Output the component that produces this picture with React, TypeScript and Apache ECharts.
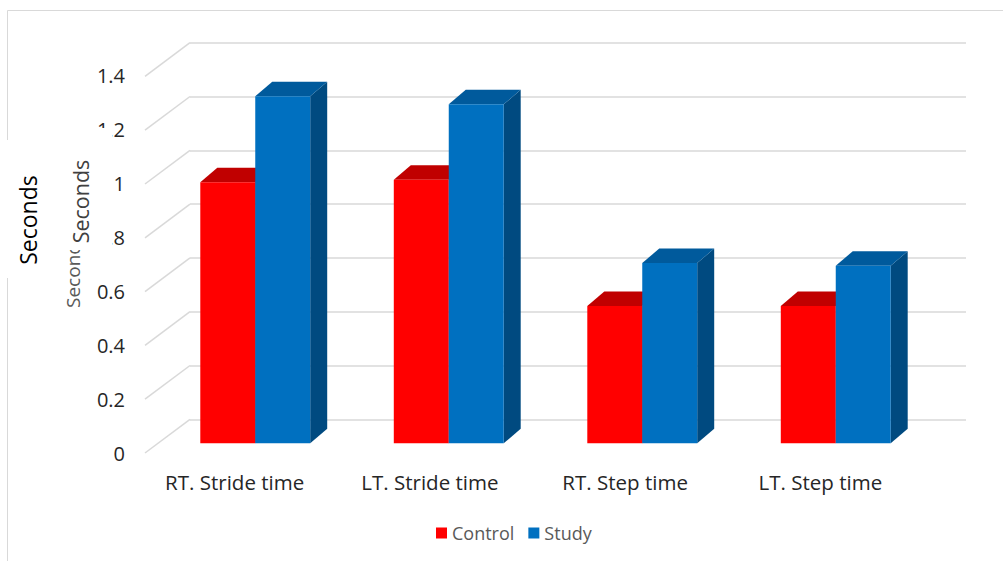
import React, { useEffect, useRef } from "react";
import * as echarts from "echarts";

// Gait timing (seconds) for control and study groups
const categories = ["RT. Stride time", "LT. Stride time", "RT. Step time", "LT. Step time"];
const controlValues = [0.97, 0.98, 0.51, 0.51];
const studyValues = [1.29, 1.26, 0.67, 0.66];
const yTicks = [0, 0.2, 0.4, 0.6, 0.8, 1.0, 1.2, 1.4];
const seriesNames = ["Control", "Study"];

const FONT = "'Open Sans', Lato, sans-serif";

// depth of the bars' top/side faces and of the floor/wall perspective
const BAR_DX = 17;
const BAR_DY = 14.5;
const WALL_DX = 45;
const WALL_DY = 33.7;

type Faces = { front: string; top: string; side: string };

function barRenderer(side: -1 | 1, faces: Faces) {
  return (_params: any, api: any) => {
    const cat = api.value(0);
    const val = api.value(1);
    const top = api.coord([cat, val]);
    const base = api.coord([cat, 0]);
    const band = api.size([1, 0])[0];
    const w = band * 0.284;
    const x0 = side < 0 ? top[0] - w : top[0];
    const x1 = x0 + w;
    const yT = top[1];
    const yB = base[1];
    return {
      type: "group",
      children: [
        {
          type: "polygon",
          shape: { points: [[x1, yT], [x1 + BAR_DX, yT - BAR_DY], [x1 + BAR_DX, yB - BAR_DY], [x1, yB]] },
          style: { fill: faces.side },
        },
        {
          type: "polygon",
          shape: { points: [[x0, yT], [x0 + BAR_DX, yT - BAR_DY], [x1 + BAR_DX, yT - BAR_DY], [x1, yT]] },
          style: { fill: faces.top },
        },
        {
          type: "rect",
          shape: { x: x0, y: yT, width: w, height: yB - yT },
          style: { fill: faces.front },
        },
      ],
    };
  };
}

export default function App() {
  const ref = useRef<HTMLDivElement>(null);

  useEffect(() => {
    if (!ref.current) return;
    const chart = echarts.init(ref.current, undefined, { renderer: "svg" });

    const controlFaces: Faces = { front: "#FF0000", top: "#C00000", side: "#A00000" };
    const studyFaces: Faces = { front: "#0070C0", top: "#005A9C", side: "#004A80" };

    const option: any = {
      animation: false,
      backgroundColor: "#ffffff",
      textStyle: { fontFamily: FONT },
      grid: [
        // front plane: tick labels and category labels
        { left: 137, top: 75, width: 781, height: 378 },
        // plane holding the bar fronts
        { left: 158.5, top: 66.7, width: 774, height: 376.6 },
        // back wall
        { left: 190, top: 42.7, width: 776, height: 376.6 },
      ],
      xAxis: [
        {
          gridIndex: 0,
          type: "category",
          data: categories,
          axisLine: { show: false },
          axisTick: { show: false },
          axisLabel: { margin: 18, fontSize: 20.5, color: "#262626", fontFamily: FONT },
        },
        { gridIndex: 1, type: "category", data: categories, show: false },
        { gridIndex: 2, type: "value", min: 0, max: 1, show: false },
      ],
      yAxis: [
        {
          gridIndex: 0,
          type: "value",
          min: 0,
          max: 1.4,
          interval: 0.2,
          axisLine: { show: false },
          axisTick: { show: false },
          splitLine: { show: false },
          axisLabel: { margin: 12, fontSize: 20, color: "#262626", fontFamily: FONT },
        },
        { gridIndex: 1, type: "value", min: 0, max: 1.4, interval: 0.2, show: false },
        {
          gridIndex: 2,
          type: "value",
          min: 0,
          max: 1.4,
          interval: 0.2,
          axisLine: { show: false },
          axisTick: { show: false },
          axisLabel: { show: false },
          splitLine: { show: true, lineStyle: { color: "#d9d9d9", width: 1.5 } },
        },
      ],
      legend: {
        data: seriesNames,
        left: 431,
        top: 519,
        icon: "rect",
        itemWidth: 11,
        itemHeight: 11,
        itemGap: 14,
        textStyle: { fontSize: 18, color: "#595959", fontFamily: FONT },
      },
      series: [
        {
          name: "floor",
          type: "custom",
          xAxisIndex: 2,
          yAxisIndex: 2,
          clip: false,
          silent: true,
          z: 1,
          data: yTicks.map((v) => [0, v]),
          renderItem: (_p: any, api: any) => {
            const p = api.coord([0, api.value(1)]);
            return {
              type: "line",
              shape: { x1: p[0] - WALL_DX, y1: p[1] + WALL_DY, x2: p[0], y2: p[1] },
              style: { stroke: "#d9d9d9", lineWidth: 1.5 },
            };
          },
        },
        {
          name: seriesNames[0],
          type: "custom",
          xAxisIndex: 1,
          yAxisIndex: 1,
          clip: false,
          z: 3,
          itemStyle: { color: controlFaces.front },
          data: controlValues.map((v, i) => [i, v]),
          encode: { x: 0, y: 1 },
          renderItem: barRenderer(-1, controlFaces),
        },
        {
          name: seriesNames[1],
          type: "custom",
          xAxisIndex: 1,
          yAxisIndex: 1,
          clip: false,
          z: 4,
          itemStyle: { color: studyFaces.front },
          data: studyValues.map((v, i) => [i, v]),
          encode: { x: 0, y: 1 },
          renderItem: barRenderer(1, studyFaces),
        },
      ],
      graphic: [
        {
          type: "rect",
          z: 0,
          silent: true,
          shape: { x: 7.5, y: 10.5, width: 1100, height: 600 },
          style: { fill: "none", stroke: "#d9d9d9", lineWidth: 1 },
        },
        {
          type: "text",
          z: 10,
          x: 73,
          y: 271,
          rotation: Math.PI / 2,
          style: {
            text: "Seconds",
            fontSize: 19,
            fontFamily: FONT,
            fill: "#595959",
            align: "center",
            verticalAlign: "middle",
          },
        },
        {
          type: "rect",
          z: 20,
          silent: true,
          shape: { x: 62, y: 128, width: 50, height: 122 },
          style: { fill: "#ffffff" },
        },
        {
          type: "text",
          z: 21,
          x: 80,
          y: 201.5,
          rotation: Math.PI / 2,
          style: {
            text: "Seconds",
            fontSize: 21.5,
            fontFamily: FONT,
            fill: "#404040",
            align: "center",
            verticalAlign: "middle",
          },
        },
        {
          type: "rect",
          z: 20,
          silent: true,
          shape: { x: 0, y: 140, width: 50, height: 138 },
          style: { fill: "#ffffff" },
        },
        {
          type: "text",
          z: 21,
          x: 28,
          y: 220,
          rotation: Math.PI / 2,
          style: {
            text: "Seconds",
            fontSize: 23,
            fontFamily: FONT,
            fill: "#000000",
            align: "center",
            verticalAlign: "middle",
          },
        },
      ],
    };

    chart.setOption(option);
    return () => chart.dispose();
  }, []);

  return (
    <div
      ref={ref}
      style={{ position: "fixed", left: 0, top: 0, width: 1003, height: 561 }}
    />
  );
}
